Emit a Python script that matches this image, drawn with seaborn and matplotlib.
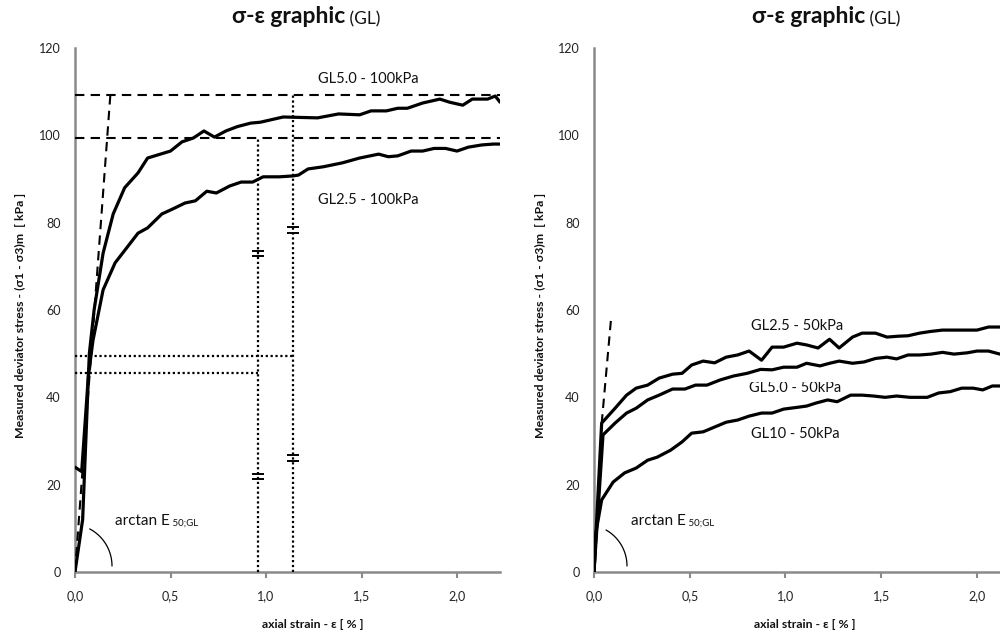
import matplotlib
matplotlib.use("Agg")
import matplotlib.pyplot as plt
import numpy as np
import pandas as pd
import seaborn as sns
from matplotlib.patches import Rectangle

# ---- stress-strain curves, confining pressure 100 kPa ----
gl50_100_strain = [0, 0.04, 0.075, 0.10, 0.147, 0.20, 0.26, 0.33, 0.38, 0.50, 0.56, 0.62, 0.675,
                   0.73, 0.79, 0.85, 0.92, 0.97, 1.04, 1.09, 1.27, 1.38, 1.49, 1.55, 1.63, 1.69,
                   1.74, 1.82, 1.91, 1.96, 2.03, 2.08, 2.16, 2.20, 2.225]
gl50_100_stress = [0, 12, 50, 60, 73, 82, 88, 91.4, 94.8, 96.4, 98.5, 99.4, 101,
                   99.6, 101, 102, 102.8, 103, 103.7, 104.2, 104, 104.9, 104.7, 105.6, 105.6, 106.2,
                   106.2, 107.4, 108.3, 107.6, 106.9, 108.3, 108.3, 109, 107.6]

gl25_100_strain = [0, 0.035, 0.07, 0.094, 0.147, 0.21, 0.27, 0.33, 0.38, 0.455, 0.51, 0.576, 0.63,
                   0.69, 0.74, 0.81, 0.87, 0.93, 0.985, 1.07, 1.14, 1.17, 1.22, 1.30, 1.40, 1.49,
                   1.59, 1.64, 1.69, 1.76, 1.82, 1.88, 1.94, 2.0, 2.06, 2.13, 2.19, 2.225]
gl25_100_stress = [24, 23, 45, 53, 64.6, 70.8, 74.2, 77.6, 78.8, 82, 83.1, 84.5, 85,
                   87.2, 86.8, 88.4, 89.3, 89.3, 90.5, 90.5, 90.7, 90.9, 92.3, 92.8, 93.7, 94.8,
                   95.7, 95.1, 95.3, 96.4, 96.4, 97, 97, 96.4, 97.3, 97.8, 98, 98]

# ---- stress-strain curves, confining pressure 50 kPa ----
gl25_50_strain = [0, 0.04, 0.11, 0.17, 0.22, 0.28, 0.34, 0.41, 0.46, 0.51, 0.57, 0.63, 0.69, 0.75,
                  0.81, 0.875, 0.93, 0.99, 1.06, 1.11, 1.17, 1.23, 1.28, 1.35, 1.40, 1.47, 1.53,
                  1.59, 1.64, 1.70, 1.76, 1.82, 1.88, 1.95, 2.0, 2.06, 2.12]
gl25_50_stress = [0, 34.1, 37.5, 40.5, 42.1, 42.8, 44.4, 45.3, 45.5, 47.4, 48.3, 47.9, 49.2, 49.7,
                  50.6, 48.5, 51.5, 51.5, 52.4, 52, 51.3, 53.3, 51.3, 53.8, 54.7, 54.7, 53.8,
                  54.0, 54.1, 54.7, 55.1, 55.4, 55.4, 55.4, 55.4, 56.1, 56.1]

gl50_50_strain = [0, 0.047, 0.11, 0.17, 0.22, 0.28, 0.34, 0.41, 0.475, 0.53, 0.59, 0.66, 0.73, 0.80,
                  0.87, 0.93, 0.99, 1.06, 1.11, 1.18, 1.23, 1.28, 1.35, 1.41, 1.47, 1.53, 1.58,
                  1.64, 1.70, 1.76, 1.82, 1.88, 1.95, 2.0, 2.06, 2.12]
gl50_50_stress = [0, 31.4, 34.1, 36.4, 37.5, 39.4, 40.5, 41.9, 41.9, 42.8, 42.8, 44, 44.9, 45.5,
                  46.4, 46.3, 46.9, 46.9, 47.8, 47.2, 47.8, 48.3, 47.8, 48.1, 48.9, 49.2, 48.8,
                  49.7, 49.7, 49.9, 50.3, 49.9, 50.2, 50.6, 50.6, 49.9]

gl10_50_strain = [0, 0.01, 0.04, 0.10, 0.16, 0.22, 0.28, 0.33, 0.40, 0.46, 0.51, 0.57, 0.63, 0.69,
                  0.75, 0.81, 0.875, 0.93, 0.99, 1.06, 1.11, 1.16, 1.22, 1.27, 1.34, 1.40, 1.46,
                  1.52, 1.58, 1.65, 1.74, 1.80, 1.86, 1.92, 1.98, 2.03, 2.08, 2.12]
gl10_50_stress = [0, 9, 16.5, 20.6, 22.7, 23.8, 25.6, 26.3, 27.9, 29.8, 31.8, 32.1, 33.2, 34.3,
                  34.8, 35.7, 36.4, 36.4, 37.3, 37.7, 38, 38.7, 39.4, 39, 40.5, 40.5, 40.3,
                  40, 40.3, 40, 40, 41, 41.3, 42.1, 42.1, 41.7, 42.6, 42.6]

# ---- construction lines ----
peak_levels = [109.2, 99.4]                 # dashed horizontals (100 kPa)
secant_100_strain = [0, 0.185]
secant_100_stress = [0, 109.2]
secant_50_strain = [0.04, 0.088]
secant_50_stress = [34, 57.5]
e50_strain = [0.96, 1.14]                   # dotted verticals
e50_top = [99.4, 109.2]
half_levels = [45.6, 49.5]                  # dotted horizontals
break_marks = {0.96: [73.0, 21.8], 1.14: [78.3, 26.1]}

xtick_vals = [0, 0.5, 1.0, 1.5, 2.0]
xtick_text = ["0,0", "0,5", "1,0", "1,5", "2,0"]
ytick_vals = [0, 20, 40, 60, 80, 100, 120]

sns.set_theme(style="white")
plt.rcParams["font.family"] = ["Lato", "Open Sans", "DejaVu Sans"]

W, H = 1000, 638
fig = plt.figure(figsize=(W / 100, H / 100), dpi=100)
fig.patch.set_facecolor("white")

ax_h = (572 - 48) / H
ax_b = (H - 572) / H
axL = fig.add_axes([75 / W, ax_b, 425 / W, ax_h])
axR = fig.add_axes([594 / W, ax_b, 476 / W, ax_h])

GREY = "#8a8a8a"
INK = "#111111"
CURVE_LW = 2.3


def style_axes(ax, xmax):
    ax.set_facecolor("white")
    ax.set_xlim(0, xmax)
    ax.set_ylim(0, 120)
    for s in ["top", "right"]:
        ax.spines[s].set_visible(False)
    for s in ["left", "bottom"]:
        ax.spines[s].set_color(GREY)
        ax.spines[s].set_linewidth(1.8)
    ax.set_yticks(ytick_vals)
    ax.set_yticklabels([str(v) for v in ytick_vals])
    ax.set_xticks(xtick_vals)
    ax.set_xticklabels(xtick_text)
    ax.tick_params(axis="y", length=0, pad=10.5, labelsize=9, labelcolor="#222222")
    ax.tick_params(axis="x", length=4, width=1.5, color=GREY, direction="out",
                   pad=9, labelsize=9, labelcolor="#222222", bottom=True)
    ax.grid(False)
    ax.set_xlabel("")
    ax.set_ylabel("")


def curve(ax, xs, ys):
    df = pd.DataFrame({"strain": xs, "stress": ys})
    sns.lineplot(data=df, x="strain", y="stress", ax=ax, color="black",
                 linewidth=CURVE_LW, sort=False, estimator=None, zorder=5)
    ax.set_xlabel("")
    ax.set_ylabel("")


def angle_arc(ax, center_px, radius_px, theta2):
    # circular arc with equal pixel radius on both axes
    x0, x1 = ax.get_xlim()
    y0, y1 = ax.get_ylim()
    pos = ax.get_position()
    ux = (x1 - x0) / (pos.width * W)
    uy = (y1 - y0) / (pos.height * H)
    t = np.radians(np.linspace(0, theta2, 40))
    xs = (center_px[0] + radius_px * np.cos(t)) * ux
    ys = (center_px[1] + radius_px * np.sin(t)) * uy
    ax.plot(xs, ys, color="black", lw=0.9, clip_on=False, zorder=6)


def arctan_label(ax, x, y):
    t = ax.text(x, y, "arctan E", fontsize=11, va="baseline", ha="left", color=INK)
    ax.annotate(" 50;GL", xy=(1, 0), xycoords=t, xytext=(0, 0), textcoords="offset points",
                fontsize=7, va="bottom", ha="left", color=INK)


# ---------------- left panel ----------------
style_axes(axL, 2.225)
dash = (0, (4.5, 3))
dot = (0, (1, 1.2))
for lvl in peak_levels:
    axL.plot([0, 2.225], [lvl, lvl], color="black", lw=1.5, linestyle=dash, zorder=4)
axL.plot(secant_100_strain, secant_100_stress, color="black", lw=1.5, linestyle=dash, zorder=4)
for xv, top in zip(e50_strain, e50_top):
    axL.plot([xv, xv], [0, top], color="black", lw=1.6, linestyle=dot, zorder=4)
axL.plot([0, e50_strain[0]], [half_levels[0]] * 2, color="black", lw=1.6, linestyle=dot, zorder=4)
axL.plot([0, e50_strain[1]], [half_levels[1]] * 2, color="black", lw=1.6, linestyle=dot, zorder=4)
for xv, ys in break_marks.items():
    for yc in ys:
        axL.plot([xv, xv], [yc + 0.6, yc - 0.6], linestyle="none", marker="_",
                 markersize=8.5, markeredgewidth=1.4, color="black", zorder=6)

curve(axL, gl50_100_strain, gl50_100_stress)
curve(axL, gl25_100_strain, gl25_100_stress)

axL.text(1.27, 112.0, "GL5.0 - 100kPa", fontsize=10.5, va="baseline", ha="left", color=INK)
axL.text(1.27, 84.3, "GL2.5 - 100kPa", fontsize=10.5, va="baseline", ha="left", color=INK)
angle_arc(axL, (-5, 6), 42, 62)
arctan_label(axL, 0.209, 10.8)

# ---------------- right panel ----------------
style_axes(axR, 476 / 191.5)
axR.plot(secant_50_strain, secant_50_stress, color="black", lw=1.5, linestyle=dash, zorder=4)
curve(axR, gl25_50_strain, gl25_50_stress)
curve(axR, gl50_50_strain, gl50_50_stress)
curve(axR, gl10_50_strain, gl10_50_stress)

axR.text(0.82, 55.4, "GL2.5 - 50kPa", fontsize=10.5, va="baseline", ha="left", color=INK)
axR.text(0.81, 41.3, "GL5.0 - 50kPa", fontsize=10.5, va="baseline", ha="left", color=INK,
         zorder=3)
axR.add_patch(Rectangle((0.78, 43.6), 0.62, 1.4, facecolor="white", edgecolor="none", zorder=3.5))
axR.text(0.82, 30.7, "GL10 - 50kPa", fontsize=10.5, va="baseline", ha="left", color=INK)
angle_arc(axR, (-8.4, 6), 41.4, 60.5)
arctan_label(axR, 0.193, 10.8)

# ---------------- titles and axis titles ----------------
for x_px in (232, 752):
    t = fig.text(x_px / W, 1 - 23 / H, "σ-ε graphic", fontsize=16.5, fontweight="bold",
                 va="baseline", ha="left", color=INK)
    axL.annotate(" (GL)", xy=(1, 0), xycoords=t, xytext=(0, 0), textcoords="offset points",
                 fontsize=12.5, va="bottom", ha="left", color=INK, annotation_clip=False)

ylab = "Measured deviator stress - (σ1 - σ3)m  [ kPa ]"
for x_px in (20, 540):
    fig.text(x_px / W, 1 - 315 / H, ylab, rotation=90, fontsize=8.8, fontweight="bold",
             va="center", ha="center", color=INK)

xlab = "axial strain - ε [ % ]"
for x_px in (313, 805):
    fig.text(x_px / W, 1 - 625 / H, xlab, fontsize=8.8, fontweight="bold",
             va="center", ha="center", color=INK)

fig.savefig("out.png", dpi=100, facecolor="white")
